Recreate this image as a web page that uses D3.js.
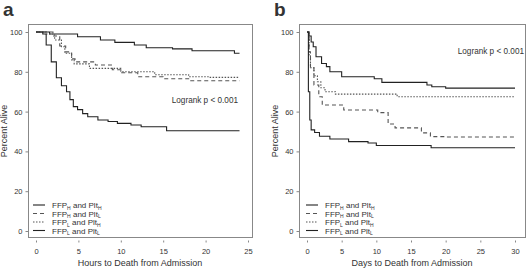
<!DOCTYPE html>
<html>
<head>
<meta charset="utf-8">
<script src="https://cdnjs.cloudflare.com/ajax/libs/d3/7.8.5/d3.min.js"></script>
<style>
  body { margin: 0; background: #fff; }
  text { font-family: "Liberation Sans", Arial, sans-serif; fill: #333; }
</style>
</head>
<body>
<div id="main"></div>
<script>
// series names (subscripts H = high ratio, L = low ratio)
const seriesNames = [["H", "H"], ["H", "L"], ["L", "H"], ["L", "L"]]
const dashes = [null, "4,3", "1.5,1.5", null]

// panel a: hours
const hoursT = [
  [0, 1.6, 4.9, 7.6, 9.3, 11.6, 13, 16.1, 18.4, 23.4, 24],
  [0, 2, 2.8, 3.5, 4.2, 4.6, 7, 9, 10, 12, 15, 18, 20.3, 24],
  [0, 1.2, 2.2, 3, 3.4, 4.2, 4.5, 6.3, 10, 14, 18, 20.3, 24],
  [0, 0.8, 1.2, 1.8, 2.4, 3, 3.6, 4, 4.4, 4.9, 5.5, 6.1, 7.3, 8.5, 9.6, 11.2, 12.4, 15.4, 24]
]
const hoursV = [
  [100, 99, 97.6, 96, 94.8, 93.5, 92.1, 91.5, 90.6, 89.3, 89.3],
  [100, 98, 93, 90, 86.5, 85, 83.4, 81, 79.5, 77.5, 76.5, 75.5, 75.5, 75.5],
  [100, 99, 96, 92.6, 89.3, 86, 84, 81.7, 80, 78.5, 77.5, 77.2, 77.2],
  [100, 99, 93.5, 85, 77, 73, 70, 66, 62.5, 61, 59, 57.4, 55.8, 55, 54.1, 53.3, 52.4, 50.4, 50.4]
]

// panel b: days
const daysT = [
  [0, 0.3, 0.6, 0.9, 1.3, 2.1, 2.8, 3.3, 5, 9.7, 10.8, 17.3, 18, 20, 30],
  [0, 0.3, 0.5, 1, 1.7, 2.2, 5.3, 10.2, 11.7, 12.7, 16.5, 17.8, 19.9, 30],
  [0, 0.3, 0.5, 1, 1.5, 2, 2.6, 4.1, 13, 30],
  [0, 0.2, 0.4, 0.6, 1.1, 1.8, 3.3, 6, 8.8, 10, 17.9, 30]
]
const daysV = [
  [100, 98, 95, 92.6, 87.6, 84.2, 82.6, 80, 77.5, 76.5, 74.7, 73.4, 72.5, 71.8, 71.8],
  [100, 90, 82, 73.4, 67.5, 63.3, 60.8, 59.5, 53.8, 51.8, 49.3, 47.4, 47.2, 47.2],
  [100, 88, 82, 78, 75, 72, 70, 68.8, 67.5, 67.5],
  [100, 70, 55.8, 50.8, 49.5, 47.6, 46.2, 44.9, 44.2, 43, 41.8, 41.8]
]

const yTicks = [0, 20, 40, 60, 80, 100]
const hourTicks = [0, 5, 10, 15, 20, 25]
const dayTicks = [0, 5, 10, 15, 20, 25, 30]

const svg = d3.select("#main").append("svg")
  .attr("width", 528)
  .attr("height", 269)

function panel(opt) {
  let g = svg.append("g")
  let x = d3.scaleLinear().domain(opt.xdom).range(opt.xrange)
  let y = d3.scaleLinear().domain([0, 100]).range([231, 32])

  g.append("rect")
    .attr("x", opt.box[0] + 0.5).attr("y", 24.5)
    .attr("width", opt.box[1] - opt.box[0]).attr("height", 213)
    .attr("fill", "none").attr("stroke", "#888").attr("stroke-width", 1)

  let yAxis = g.append("g")
    .attr("transform", `translate(${opt.box[0] + 0.5},0)`)
    .call(d3.axisLeft(y).tickValues(yTicks).tickSize(3).tickPadding(3))
  yAxis.select(".domain").remove()

  let xAxis = g.append("g")
    .attr("transform", `translate(0,${240.5})`)
    .call(d3.axisBottom(x).tickValues(opt.ticks).tickSize(2).tickPadding(6))
  xAxis.select(".domain").remove()

  g.selectAll(".tick line").attr("stroke", "#888")
  g.selectAll(".tick text").attr("font-size", 7.5).attr("fill", "#444")

  g.append("text")
    .attr("x", (opt.box[0] + opt.box[1]) / 2).attr("y", 266)
    .attr("text-anchor", "middle").attr("font-size", 9)
    .text(opt.xtitle)

  g.append("text")
    .attr("transform", `translate(${opt.box[0] - 21},131) rotate(-90)`)
    .attr("text-anchor", "middle").attr("font-size", 9)
    .text("Percent Alive")

  g.append("text")
    .attr("x", opt.box[0] - 25).attr("y", 16)
    .attr("font-size", 19).attr("font-weight", "bold").attr("fill", "#111")
    .text(opt.letter)

  g.append("text")
    .attr("x", opt.logrank[0]).attr("y", opt.logrank[1])
    .attr("text-anchor", "end")
    .attr("font-size", 8.2)
    .text("Logrank p < 0.001")

  let line = d3.line()
    .x(d => x(d[0]))
    .y(d => y(d[1]))
    .curve(d3.curveStepAfter)

  opt.T.forEach((ts, i) => {
    let pts = ts.map((t, j) => [t, opt.V[i][j]])
    g.append("path")
      .attr("d", line(pts))
      .attr("fill", "none")
      .attr("stroke", i == 0 || i == 3 ? "#222" : "#555")
      .attr("stroke-width", 1.1)
      .attr("stroke-dasharray", dashes[i])
  })

  // legend
  seriesNames.forEach((s, i) => {
    let ly = 205 + i * 8.5
    g.append("line")
      .attr("x1", opt.legx).attr("x2", opt.legx + 12)
      .attr("y1", ly).attr("y2", ly)
      .attr("stroke", i == 0 || i == 3 ? "#222" : "#555")
      .attr("stroke-width", 1.1)
      .attr("stroke-dasharray", dashes[i])
    let t = g.append("text")
      .attr("x", opt.legx + 19).attr("y", ly + 3)
      .attr("font-size", 8)
    t.append("tspan").text("FFP")
    t.append("tspan").attr("font-size", 5).attr("dy", 1.5).text(s[0])
    t.append("tspan").attr("dy", -1.5).text(" and Plt")
    t.append("tspan").attr("font-size", 5).attr("dy", 1.5).text(s[1])
  })
}

panel({
  box: [28, 252], xdom: [0, 25], xrange: [36, 248], ticks: hourTicks,
  T: hoursT, V: hoursV, letter: "a", xtitle: "Hours to Death from Admission",
  logrank: [238, 103], legx: 33
})
panel({
  box: [299, 525], xdom: [0, 30], xrange: [307, 515], ticks: dayTicks,
  T: daysT, V: daysV, letter: "b", xtitle: "Days to Death from Admission",
  logrank: [524, 54], legx: 306
})
</script>
</body>
</html>
